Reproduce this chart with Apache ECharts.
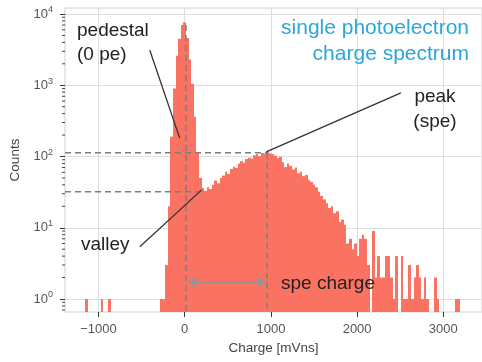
<!DOCTYPE html>
<html>
<head>
<meta charset="utf-8">
<script src="https://cdn.jsdelivr.net/npm/echarts@6/dist/echarts.min.js"></script>
<style>
  html, body { margin: 0; padding: 0; background: #fff; }
  #chart { width: 482px; height: 362px; }
</style>
</head>
<body>
<div id="chart"></div>
<script>
// histogram: bin centres in mVns, counts per bin
const binWidth = 30
const pedestalStart = -270
const pedestalCounts = [1, 1, 3, 20, 190, 900, 2600, 4500, 7000, 7600,
  4600, 2300, 1050, 360, 115, 50, 36, 33, 37, 35]
const speStart = 330
const speCounts = [
  40, 46, 42, 50, 54, 61, 57, 67, 72, 69,
  80, 86, 82, 92, 96, 93, 104, 108, 101, 112,
  110, 116, 111, 108, 103, 95, 99, 83, 71, 80,
  74, 66, 70, 58, 61, 53, 55, 47, 44, 40,
  37, 32, 28, 25, 22, 19, 20, 16, 17, 12,
  13, 11, 6, 7, 5, 6, 4, 7, 8, 7,
  3, 0, 9, 2, 4, 2, 2, 4, 4, 2,
  1, 4, 0, 4, 1, 1, 3, 1, 2, 3,
  2, 1, 2, 1, 0, 0, 2, 1
]
// lone single-count bins far from the spectrum
const strayBins = [-1140, -960, -870, 3150, 3180]

// annotated points [charge, counts]
const pedestalPeak = [15, 7000]
const spePeak = [955, 113]
const valley = [190, 32]
const speArrowY = 1.73

// annotation leader lines: [from, to] in data space
const pedestalPointer = [[-405, 3100], [-58, 181]]
const valleyPointer = [[-521, 5.4], [197, 34]]
const peakPointer = [[2508, 782], [946, 116]]

const xTicks = [-1000, 0, 1000, 2000, 3000]
const yTicks = [1, 10, 100, 1000, 10000]
const yMinorTicks = [0.7, 0.8, 0.9,
  2, 3, 4, 5, 6, 7, 8, 9,
  20, 30, 40, 50, 60, 70, 80, 90,
  200, 300, 400, 500, 600, 700, 800, 900,
  2000, 3000, 4000, 5000, 6000, 7000, 8000, 9000]

const xMin = -1389
const xMax = 3449
const yMin = 0.657
const yMax = 12140

const FONT = '"Liberation Sans", Arial, sans-serif'
const BAR = '#f97262'

const bins = []
strayBins.forEach(c => bins.push([c, 1]))
pedestalCounts.forEach((n, i) => bins.push([pedestalStart + i * binWidth, n]))
speCounts.forEach((n, i) => bins.push([speStart + i * binWidth, n]))

const chart = echarts.init(document.getElementById('chart'))

function renderBar(params, api) {
  const count = api.value(1)
  if (!(count > 0)) return null
  const c = api.value(0)
  const a = api.coord([c - binWidth / 2, count])
  const b = api.coord([c + binWidth / 2, count])
  const bottom = params.coordSys.y + params.coordSys.height
  const x0 = Math.round(a[0])
  const x1 = Math.max(Math.round(b[0]), x0 + 1)
  return {
    type: 'rect',
    shape: { x: x0, y: a[1], width: x1 - x0, height: bottom - a[1] },
    style: { fill: BAR }
  }
}

function renderMinorTick(params, api) {
  const p = api.coord([api.value(0), api.value(1)])
  return {
    type: 'line',
    shape: { x1: p[0] - 3, y1: p[1], x2: p[0], y2: p[1] },
    style: { stroke: '#444', lineWidth: 1 }
  }
}

const dashed = { color: '#7d7d7d', width: 1.4, type: [6, 4] }
const pointer = { color: '#333', width: 1.3, type: 'solid' }

// one straight segment drawn as a two-point line series
function segment(name, from, to, style) {
  return {
    name: name,
    type: 'line',
    data: [from, to],
    symbol: 'none',
    lineStyle: style,
    z: 5,
    silent: true,
    emphasis: { disabled: true }
  }
}

function text(str, x, y, align, size, color) {
  return {
    type: 'text',
    z: 100,
    style: {
      text: str, x: x, y: y,
      fill: color || '#222',
      font: (size || 19) + 'px ' + FONT,
      textAlign: align || 'left', align: align || 'left',
      textVerticalAlign: 'middle', verticalAlign: 'middle'
    }
  }
}

const options = {
  animation: false,
  textStyle: { fontFamily: FONT },
  grid: {
    left: 65, top: 8, width: 418, height: 304,
    show: true, borderColor: '#cfcfcf', borderWidth: 1,
    backgroundColor: 'transparent'
  },
  xAxis: {
    type: 'value',
    min: xMin,
    max: xMax,
    name: 'Charge [mVns]',
    nameLocation: 'middle',
    nameGap: 27,
    nameTextStyle: { fontSize: 13.5, color: '#444', fontFamily: FONT },
    axisLine: { show: false, onZero: false },
    axisTick: { show: true, length: 5, customValues: xTicks, lineStyle: { color: '#333' } },
    axisLabel: {
      customValues: xTicks,
      margin: 11,
      fontSize: 13,
      color: '#555',
      fontFamily: FONT,
      formatter: v => v < 0 ? '\u2212' + Math.abs(v) : String(v)
    },
    splitLine: { show: true, lineStyle: { color: '#dedede', width: 1 } }
  },
  yAxis: {
    type: 'log',
    logBase: 10,
    min: yMin,
    max: yMax,
    name: 'Counts',
    nameLocation: 'middle',
    nameGap: 29,
    nameTextStyle: { fontSize: 13.5, color: '#444', fontFamily: FONT },
    axisLine: { show: false, onZero: false },
    axisTick: { show: true, length: 5, customValues: yTicks, lineStyle: { color: '#333' } },
    axisLabel: {
      customValues: yTicks,
      margin: 12,
      formatter: v => '{b|10}{s|' + Math.round(Math.log10(v)) + '}',
      rich: {
        b: { fontSize: 13, color: '#555', fontFamily: FONT },
        s: { fontSize: 9, color: '#555', fontFamily: FONT, padding: [0, 0, 8, 0] }
      }
    },
    splitLine: { show: true, lineStyle: { color: '#dedede', width: 1 } }
  },
  series: [
    {
      name: 'counts',
      type: 'custom',
      renderItem: renderBar,
      data: bins,
      z: 2,
      silent: true
    },
    {
      name: 'minor ticks',
      type: 'custom',
      renderItem: renderMinorTick,
      data: yMinorTicks.map(v => [xMin, v]),
      clip: false,
      silent: true
    },
    segment('peak level', [xMin, spePeak[1]], spePeak, dashed),
    segment('valley level', [xMin, valley[1]], valley, dashed),
    segment('pedestal position', pedestalPeak, [pedestalPeak[0], yMin], dashed),
    segment('spe position', spePeak, [spePeak[0], yMin], dashed),
    segment('pedestal pointer', pedestalPointer[0], pedestalPointer[1], pointer),
    segment('valley pointer', valleyPointer[0], valleyPointer[1], pointer),
    segment('peak pointer', peakPointer[0], peakPointer[1], pointer),
    {
      name: 'spe charge',
      type: 'line',
      data: [],
      z: 5,
      silent: true,
      markLine: {
        silent: true,
        animation: false,
        label: { show: false },
        emphasis: { disabled: true },
        symbol: ['arrow', 'arrow'],
        symbolSize: [8, 9],
        lineStyle: { color: '#8a989c', width: 1.6, type: 'solid' },
        data: [[
          { coord: [pedestalPeak[0] + 25, speArrowY] },
          { coord: [spePeak[0] - 15, speArrowY] }
        ]]
      }
    }
  ],
  graphic: [
    text('pedestal', 77, 30.5),
    text('(0 pe)', 77, 55),
    text('single photoelectron', 469, 28, 'right', 21, '#2ba6da'),
    text('charge spectrum', 469, 54, 'right', 21, '#2ba6da'),
    text('peak', 435, 97, 'center'),
    text('(spe)', 435, 121.5, 'center'),
    text('valley', 81, 245),
    text('spe charge', 281, 283.5)
  ]
}

chart.setOption(options)
</script>
</body>
</html>
